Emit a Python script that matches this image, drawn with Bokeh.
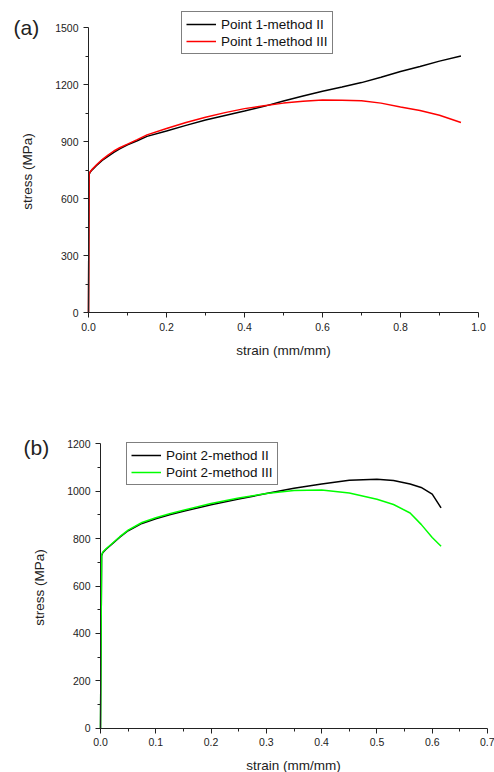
import math
from bokeh.plotting import figure
from bokeh.models import (Range1d, FixedTicker, PrintfTickFormatter,
                          Legend, LegendItem, Label, LinearAxis)
from bokeh.embed import file_html
from bokeh.resources import INLINE

# ---------------- data ----------------
# Panel (a): Point 1
strain_a = [0.0, 0.0015, 0.004, 0.01, 0.02, 0.035, 0.05, 0.065, 0.08, 0.1,
            0.125, 0.15, 0.2, 0.25, 0.3, 0.35, 0.4, 0.45, 0.5, 0.55, 0.6,
            0.65, 0.7, 0.75, 0.8, 0.85, 0.9, 0.955]
stress_a_II = [0, 725, 738, 752, 772, 800, 822, 843, 861, 883,
               904, 927, 955, 985, 1013, 1037, 1060, 1085, 1113, 1140, 1165,
               1187, 1210, 1238, 1268, 1295, 1323, 1350]
stress_a_III = [0, 728, 740, 755, 776, 805, 828, 850, 867, 886,
                910, 935, 968, 1000, 1028, 1052, 1073, 1088, 1102, 1112, 1118,
                1117, 1114, 1102, 1082, 1063, 1038, 1000]

# Panel (b): Point 2
strain_b = [0.0, 0.002, 0.004, 0.01, 0.02, 0.035, 0.05, 0.075, 0.1, 0.125,
            0.15, 0.2, 0.25, 0.3, 0.35, 0.4, 0.45, 0.5, 0.53, 0.56, 0.58,
            0.6, 0.616]
stress_b_II = [0, 728, 740, 755, 775, 806, 833, 864, 884, 901,
               915, 943, 967, 990, 1012, 1030, 1046, 1050, 1045, 1030, 1016,
               988, 930]
stress_b_III = [0, 730, 742, 757, 777, 808, 836, 868, 888, 905,
                920, 948, 971, 990, 1003, 1005, 992, 966, 944, 908, 860,
                805, 768]

# ticks
xticks_a = [0.0, 0.2, 0.4, 0.6, 0.8, 1.0]
xminor_a = [0.1, 0.3, 0.5, 0.7, 0.9]
yticks_a = [0, 300, 600, 900, 1200, 1500]
yminor_a = [150, 450, 750, 1050, 1350]
xticks_b = [0.0, 0.1, 0.2, 0.3, 0.4, 0.5, 0.6, 0.7]
xminor_b = [0.05, 0.15, 0.25, 0.35, 0.45, 0.55, 0.65]
yticks_b = [0, 200, 400, 600, 800, 1000, 1200]
yminor_b = [100, 300, 500, 700, 900, 1100]

labels_a = ["Point 1-method II", "Point 1-method III"]
labels_b = ["Point 2-method II", "Point 2-method III"]
panel_tags = ["(a)", "(b)"]
x_label = "strain (mm/mm)"
y_label = "stress (MPa)"

FONT = "Liberation Sans"
AXIS_COLOR = "#222222"
W, H = 494, 386

# layout (pixels from the top-left of each panel)
LAYOUT_A = dict(axis_px=(88, 478, 27, 312), legend=(181, 54),
                tag=(13, 27), xlab=(283, 350), ylab=(27, 171))
LAYOUT_B = dict(axis_px=(100, 487, 57.3, 341.7), legend=(126, 99),
                tag=(23, 61), xlab=(293, 379), ylab=(39, 201))


def style_axis(ax):
    ax.axis_line_color = AXIS_COLOR
    ax.major_tick_line_color = AXIS_COLOR
    ax.minor_tick_line_color = AXIS_COLOR
    ax.major_tick_in = 0
    ax.major_tick_out = 5
    ax.minor_tick_in = 0
    ax.minor_tick_out = 3
    ax.major_label_text_font = FONT
    ax.major_label_text_font_size = "10.5px"
    ax.major_label_text_color = AXIS_COLOR
    ax.major_label_standoff = 5


def screen_label(text, pos, size, angle=0.0, align="center"):
    return Label(x=pos[0], y=H - pos[1], x_units="screen", y_units="screen",
                 text=text, text_font=FONT, text_font_size=size,
                 text_color=AXIS_COLOR, text_baseline="middle",
                 text_align=align, angle=angle)


def make_panel(strain, s_II, s_III, labels, color_III, xmax, ymax, ticks,
               lay, tag):
    x0_px, x1_px, ytop_px, y0_px = lay["axis_px"]
    xt, xm, yt, ym = ticks
    sx = xmax / (x1_px - x0_px)          # data units per pixel
    sy = ymax / (y0_px - ytop_px)
    p = figure(width=W, height=H, output_backend="svg",
               toolbar_location=None, x_axis_location=None,
               y_axis_location=None,
               x_range=Range1d(-x0_px * sx, (W - x0_px) * sx),
               y_range=Range1d(-(H - y0_px) * sy, y0_px * sy),
               min_border_left=0, min_border_right=0,
               min_border_top=0, min_border_bottom=0)
    p.title.visible = False
    p.grid.visible = False
    p.outline_line_color = None

    xa = LinearAxis(fixed_location=0,
                    ticker=FixedTicker(ticks=xt, minor_ticks=xm),
                    formatter=PrintfTickFormatter(format="%.1f"),
                    bounds=(0, xmax))
    style_axis(xa)
    p.add_layout(xa, "below")

    ya = LinearAxis(fixed_location=0,
                    ticker=FixedTicker(ticks=yt, minor_ticks=ym),
                    formatter=PrintfTickFormatter(format="%d"),
                    bounds=(0, ymax))
    style_axis(ya)
    p.add_layout(ya, "left")

    r1 = p.line(strain, s_II, line_color="#000000", line_width=1.5)
    r2 = p.line(strain, s_III, line_color=color_III, line_width=1.5)
    legend = Legend(items=[LegendItem(label=labels[0], renderers=[r1]),
                           LegendItem(label=labels[1], renderers=[r2])],
                    location=(lay["legend"][0], H - lay["legend"][1]))
    legend.label_text_font = FONT
    legend.label_text_font_size = "13.5px"
    legend.label_text_color = "#111111"
    legend.glyph_width = 30
    legend.glyph_height = 16
    legend.label_height = 16
    legend.label_standoff = 5
    legend.padding = 4
    legend.spacing = 1
    legend.margin = 0
    legend.border_line_color = "#000000"
    legend.border_line_width = 1
    legend.background_fill_color = "white"
    legend.background_fill_alpha = 1.0
    p.add_layout(legend, "center")

    p.add_layout(screen_label(x_label, lay["xlab"], "13.5px"))
    p.add_layout(screen_label(y_label, lay["ylab"], "13.5px",
                              angle=math.pi / 2))
    p.add_layout(screen_label(tag, lay["tag"], "21px", align="left"))
    return p


p1 = make_panel(strain_a, stress_a_II, stress_a_III, labels_a, "#ff0000",
                1.0, 1500, (xticks_a, xminor_a, yticks_a, yminor_a),
                LAYOUT_A, panel_tags[0])
p2 = make_panel(strain_b, stress_b_II, stress_b_III, labels_b, "#00ff00",
                0.7, 1200, (xticks_b, xminor_b, yticks_b, yminor_b),
                LAYOUT_B, panel_tags[1])

open("out.html", "w").write(file_html([p1, p2], INLINE))
